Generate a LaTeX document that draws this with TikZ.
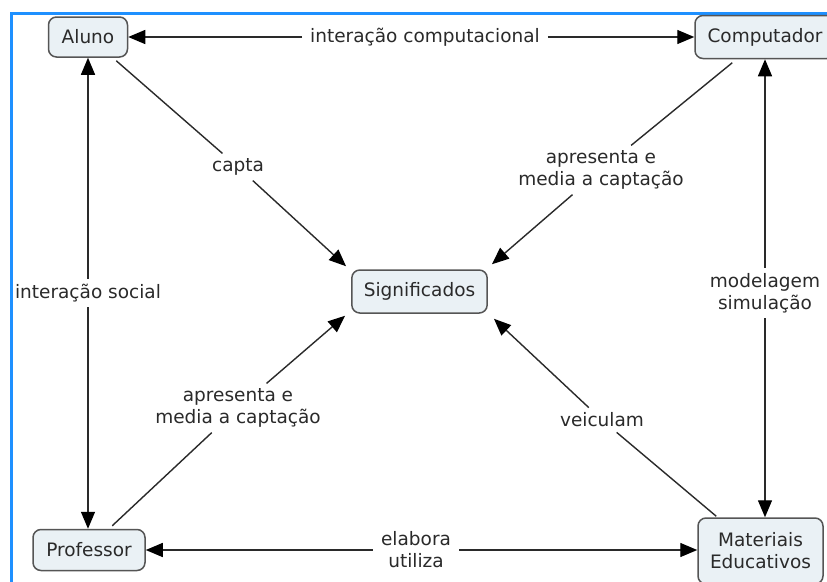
\documentclass[tikz,border=0pt]{standalone}
\usepackage{fontspec}
\setmainfont{DejaVu Sans}
\usetikzlibrary{arrows.meta,calc}
\definecolor{ink}{HTML}{2A2A2A}
\definecolor{boxfill}{HTML}{EAF1F5}
\definecolor{boxline}{HTML}{555555}
\definecolor{frameblue}{HTML}{1E90FF}
\begin{document}
\begin{tikzpicture}[x=1pt,y=-1pt,
  concept/.style={draw=boxline, line width=1.5pt, fill=boxfill, rounded corners=8pt,
    text=ink, font=\fontsize{18.5}{22}\selectfont, align=center,
    inner xsep=12pt, inner ysep=0pt},
  linklabel/.style={text=ink, font=\fontsize{18.5}{22}\selectfont, align=center,
    inner xsep=8pt, inner ysep=5pt},
  link/.style={draw=ink, line width=1.4pt},
  tip/.style={-{Triangle[length=17pt,width=14pt,color=black]}}
]
\useasboundingbox (0,0) rectangle (827,581);
\clip (0,0) rectangle (827,581);
\fill[white] (0,0) rectangle (827,581);
% frame
\draw[frameblue, line width=3pt] (11.5,590) -- (11.5,13) -- (840,13);

% concepts
\node[concept, minimum width=79pt, minimum height=40pt] (aluno) at (88,37) {Aluno};
\node[concept, minimum width=140pt, minimum height=43pt] (comp) at (765,37) {Computador};
\node[concept, minimum width=135pt, minimum height=43pt] (sig) at (419.5,291.5) {Significados};
\node[concept, minimum width=112pt, minimum height=41pt] (prof) at (89,550) {Professor};
\node[concept, minimum width=125pt, minimum height=66pt] (mat) at (760.5,551) {Materiais\\Educativos};

% linking phrases
\node[linklabel] (l1) at (425,37) {interação computacional};
\node[linklabel] (l2) at (238,167) {capta};
\node[linklabel] (l3) at (601,170) {apresenta e\\media a captação};
\node[linklabel] (l4) at (88,293) {interação social};
\node[linklabel] (l5) at (765,293) {modelagem\\simulação};
\node[linklabel] (l6) at (238,408) {apresenta e\\media a captação};
\node[linklabel] (l7) at (602,420) {veiculam};
\node[linklabel] (l8) at (416,550) {elabora\\utiliza};

% connectors
\draw[link, tip] (l1) -- (aluno);
\draw[link, tip] (l1) -- (comp);

\draw[link] ($(aluno.south east)+(-12,3)$) -- (l2);
\draw[link, tip] (l2) -- ($(sig.north west)+(-5,-3)$);

\draw[link] ($(comp.south west)+(38,3.5)$) -- (l3);
\draw[link, tip] (l3) -- ($(sig.north east)+(4,-5)$);

\draw[link, tip] (l4) -- (l4 |- aluno.south);
\draw[link, tip] (l4) -- (l4 |- prof.north);

\draw[link, tip] (l5) -- (l5 |- comp.south);
\draw[link, tip] (l5) -- (l5 |- mat.north);

\draw[link] ($(prof.north west)+(80,-3)$) -- (l6);
\draw[link, tip] (l6) -- ($(sig.south west)+(-6,2)$);

\draw[link] ($(mat.north west)+(19,-1)$) -- (l7);
\draw[link, tip] (l7) -- ($(sig.south east)+(6,5)$);

\draw[link, tip] (l8) -- (l8 -| prof.east);
\draw[link, tip] (l8) -- (l8 -| mat.west);
\end{tikzpicture}
\end{document}
